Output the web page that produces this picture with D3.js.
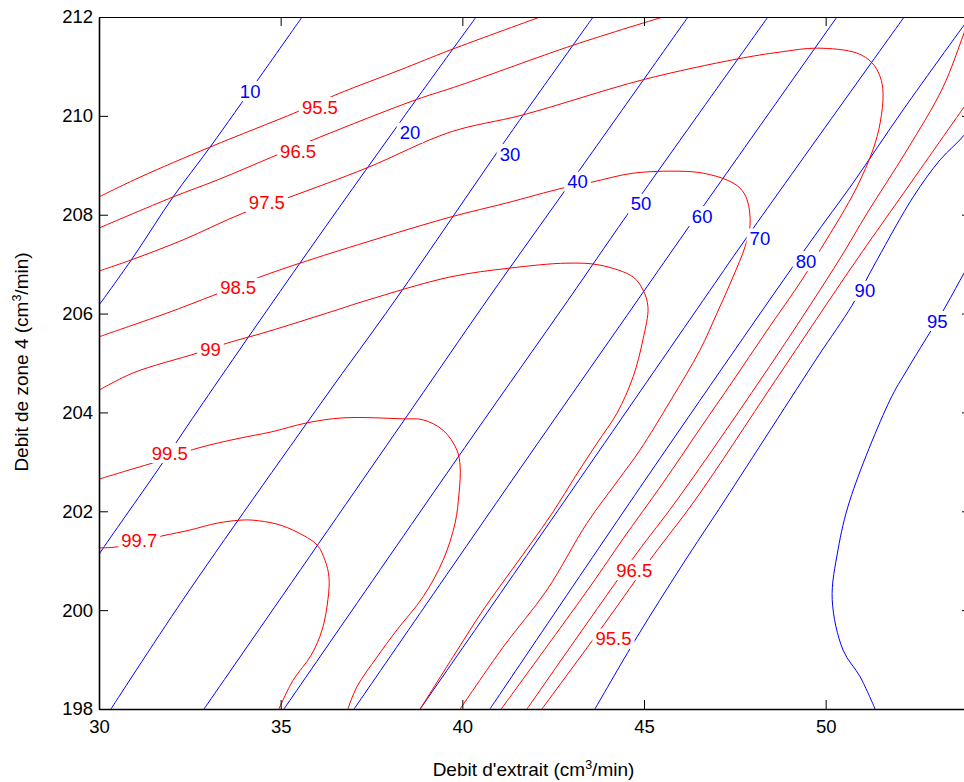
<!DOCTYPE html>
<html>
<head>
<meta charset="utf-8">
<script src="https://cdn.jsdelivr.net/npm/d3@7"></script>
<style>
  body { margin: 0; background: #fff; }
  svg text { font-family: "Liberation Sans", Arial, Helvetica, sans-serif; }
</style>
</head>
<body>
<svg id="chart" width="964" height="782"></svg>
<script>
// ---------------- DATA ----------------
const xDomain = [30, 54];
const yDomain = [198, 212];
const xTicks = [30, 35, 40, 45, 50];
const yTicks = [198, 200, 202, 204, 206, 208, 210, 212];
const xLabel = ["Debit d'extrait (cm", "3", "/min)"];
const yLabel = ["Debit de zone 4 (cm", "3", "/min)"];

// blue contours (levels 10 ... 95)
const blueLevels = [10, 20, 30, 40, 50, 60, 70, 80, 90, 95];
const blue10 = [[30,206.17],[30.94,207.14],[32.04,208.36],[33.06,209.37],[34.43,210.79],[35.59,212]];
const blue20 = [[40.38,212],[38.37,209.96],[35.53,207.02],[32.73,204.05],[31.62,202.84],[30.03,201.16],[29.9,201.0]];
const blue30 = [[43.60,212],[41.23,209.55],[38.15,206.27],[36.17,204.25],[32.31,200.21],[30.33,198]];
const blue40 = [[46.21,212],[43.29,208.97],[40.68,206.27],[38.78,204.25],[32.89,198]];
const blue50 = [[48.41,212],[44.53,207.99],[42.91,206.27],[40.21,203.44],[35.09,198]];
const blue60 = [[50.31,212],[46.21,207.73],[44.89,206.34],[41.37,202.63],[37.02,198]];
const blue70 = [[52.16,212],[47.78,207.49],[46.63,206.27],[43.21,202.63],[38.84,198]];
const blue80 = [[53.97,212],[52.13,210.12],[50.75,208.64],[49.52,207.39],[45.03,202.63],[40.76,198]];
const blue90 = [[54.1,209.95],[53.81,209.61],[53.15,209.11],[52.41,208.36],[51.41,207.08],[50.73,206.17],[49.76,205.10],[47.23,202.23],[46.05,200.91],[44.81,199.46],[43.65,198]];
const blue95 = [[54.11,207.19],[53.81,206.82],[53.29,206.13],[52.24,204.86],[51.77,204.25],[50.67,202.23],[50.34,201.22],[50.18,200.21],[50.48,199.19],[50.95,198.65],[51.36,198]];

// red contours (levels 95.5 ... 99.7)
const red955a = [[30,208.36],[31.13,208.76],[33.06,209.37],[35.45,210.08],[36.63,210.46],[38.29,210.93],[39.66,211.33],[42.14,212]];
const red955b = [[54.08,210.46],[53.81,210.18],[52.32,208.62],[50.81,207.04],[48.61,204.64],[46.41,202.23],[45.25,201.10],[43.93,199.74],[42.19,198]];
const red965a = [[30,207.73],[32.04,208.36],[33.25,208.70],[34.90,209.21],[36.08,209.57],[38.70,210.32],[39.94,210.62],[43.05,211.43],[45.52,212]];
const red965b = [[53.97,212],[53.81,211.68],[53.23,210.58],[52.24,209.31],[51.14,208.03],[50.40,207.12],[48.61,205.10],[45.91,202.23],[44.75,201.10],[41.78,198]];
const red975 = [[30,206.86],[30.94,207.10],[32.31,207.49],[33.96,208.03],[35.26,208.36],[37.38,208.95],[39.66,209.67],[41.67,210.02],[44.97,210.73],[47.56,211.15],[48.74,211.29],[49.76,211.37],[50.86,211.27],[51.28,211.07],[51.50,210.79],[51.58,210.46],[51.50,209.86],[51.30,209.31],[50.86,208.56],[50.40,207.95],[49.85,207.29],[49.38,206.72],[48.36,205.63],[47.45,204.64],[46.54,203.67],[45.52,202.57],[44.42,201.44],[43.51,200.47],[41.07,198]];
const red985 = [[30,205.53],[30.94,205.77],[31.87,206.01],[33.19,206.38],[34.43,206.74],[35.53,207.02],[37.38,207.45],[39.66,207.95],[41.23,208.24],[42.77,208.54],[43.57,208.66],[44.70,208.84],[45.99,208.88],[46.63,208.84],[47.29,208.70],[47.64,208.54],[47.84,208.30],[47.92,207.79],[47.78,207.35],[47.45,206.74],[47.01,206.01],[46.54,205.26],[45.74,204.25],[44.89,203.24],[44.29,202.63],[43.43,201.76],[42.33,200.41],[41.12,199.25],[39.94,198]];
const red99 = [[30,204.45],[30.94,204.80],[32.70,205.20],[33.52,205.40],[34.62,205.63],[36.36,206.03],[37.38,206.27],[39.66,206.74],[41.31,206.92],[42.88,207.02],[43.79,206.98],[44.70,206.74],[44.97,206.48],[45.11,206.13],[44.97,205.47],[44.70,204.72],[44.26,203.99],[43.71,203.38],[43.13,202.73],[42.50,201.99],[41.86,201.32],[41.26,200.71],[40.57,200.00],[39.74,199.05],[38.84,198]];
const red995 = [[30,202.65],[30.85,202.84],[31.40,202.96],[32.73,203.28],[33.88,203.48],[34.71,203.60],[35.73,203.79],[36.72,203.89],[38.37,203.87],[38.92,203.85],[39.47,203.64],[39.85,203.24],[39.94,202.90],[39.91,202.37],[39.80,201.76],[39.47,201.01],[38.92,200.27],[38.20,199.60],[37.65,199.05],[37.10,198.45],[36.85,198]];
const red997 = [[30,201.26],[30.50,201.28],[31.73,201.50],[32.50,201.62],[33.25,201.76],[33.88,201.82],[34.24,201.82],[34.90,201.74],[35.45,201.58],[36.00,201.32],[36.22,201.01],[36.33,200.67],[36.30,200.21],[36.14,199.60],[35.84,199.09],[35.34,198.58],[34.95,198]];

// inline contour labels: [text, x, y]
const blueLabels = [["10",34.16,210.50],["20",38.56,209.66],["30",41.31,209.23],["40",43.17,208.67],["50",44.92,208.22],["60",46.60,207.97],["70",48.19,207.52],["80",49.46,207.06],["90",51.08,206.46],["95",53.07,205.85]];
const redLabels = [["95.5",36.08,210.18],["96.5",35.48,209.29],["97.5",34.62,208.24],["98.5",33.83,206.52],["99",33.07,205.28],["99.5",31.95,203.18],["99.7",31.11,201.42],["96.5",44.73,200.81],["95.5",44.16,199.42]];

const blueContours = [blue10, blue20, blue30, blue40, blue50, blue60, blue70, blue80, blue90, blue95];
const redContours = [red955a, red955b, red965a, red965b, red975, red985, red99, red995, red997];

// ---------------- DRAWING ----------------
const BLUE = "#0000ff", RED = "#ff0000";
const FONT = 18.5, TITLE_FONT = 19;
const svg = d3.select("#chart");
const x = d3.scaleLinear().domain(xDomain).range([99, 971]);
const y = d3.scaleLinear().domain(yDomain).range([709, 17]);

svg.append("rect").attr("width", 964).attr("height", 782).attr("fill", "#fff");

svg.append("defs").append("clipPath").attr("id", "plotClip")
  .append("rect")
  .attr("x", x(xDomain[0])).attr("y", y(yDomain[1]))
  .attr("width", x(xDomain[1]) - x(xDomain[0]))
  .attr("height", y(yDomain[0]) - y(yDomain[1]));

const line = d3.line()
  .x(d => x(d[0])).y(d => y(d[1]))
  .curve(d3.curveCatmullRom.alpha(0.5));

const gLines = svg.append("g").attr("clip-path", "url(#plotClip)");
gLines.selectAll("path.blue").data(blueContours).join("path")
  .attr("class", "blue").attr("d", line)
  .attr("fill", "none").attr("stroke", BLUE).attr("stroke-width", 1);
gLines.selectAll("path.red").data(redContours).join("path")
  .attr("class", "red").attr("d", line)
  .attr("fill", "none").attr("stroke", RED).attr("stroke-width", 1);

// labels with white backing (breaks the contour lines like clabel)
const gLab = svg.append("g").attr("clip-path", "url(#plotClip)");
function drawLabels(labels, color) {
  labels.forEach(([t, lx, ly]) => {
    const cx = x(lx), cy = y(ly);
    const g = gLab.append("g");
    const rect = g.append("rect").attr("fill", "#fff");
    const txt = g.append("text")
      .attr("x", cx).attr("y", cy).attr("dy", "0.358em")
      .attr("text-anchor", "middle")
      .attr("font-size", FONT).attr("fill", color).text(t);
    const w = txt.node().getComputedTextLength();
    rect.attr("x", cx - w / 2 - 3).attr("y", cy - 10)
      .attr("width", w + 6).attr("height", 20);
  });
}
drawLabels(blueLabels, BLUE);
drawLabels(redLabels, RED);

// axes (ticks pointing inward, box)
function styleAxis(g, w) {
  g.attr("font-size", FONT).attr("font-family", "Liberation Sans, Arial, sans-serif");
  g.select(".domain").attr("stroke", "#000").attr("stroke-width", w);
  g.selectAll(".tick line").attr("stroke", "#000").attr("stroke-width", 1);
  g.selectAll(".tick text").attr("fill", "#000");
}
const gxTop = svg.append("g").attr("transform", `translate(0,${y(yDomain[1])})`)
  .call(d3.axisTop(x).tickValues(xTicks).tickSizeInner(-9).tickSizeOuter(0).tickFormat(""));
styleAxis(gxTop, 1);
const gyRight = svg.append("g").attr("transform", `translate(${x(xDomain[1])},0)`)
  .call(d3.axisRight(y).tickValues(yTicks).tickSizeInner(-9).tickSizeOuter(0).tickFormat(""));
styleAxis(gyRight, 1);
const gx = svg.append("g").attr("transform", `translate(0,${y(yDomain[0])})`)
  .call(d3.axisBottom(x).tickValues(xTicks).tickSizeInner(-9).tickSizeOuter(0).tickPadding(11));
styleAxis(gx, 1.6);
const gy = svg.append("g").attr("transform", `translate(${x(xDomain[0])},0)`)
  .call(d3.axisLeft(y).tickValues(yTicks).tickSizeInner(-9).tickSizeOuter(0).tickPadding(6));
styleAxis(gy, 1.6);

// axis titles
const xt = svg.append("text")
  .attr("x", (x(xDomain[0]) + x(xDomain[1])) / 2 - 1.5).attr("y", 776)
  .attr("text-anchor", "middle").attr("font-size", TITLE_FONT).attr("fill", "#000");
xt.append("tspan").text(xLabel[0]);
xt.append("tspan").attr("font-size", 12.5).attr("dy", -7.5).text(xLabel[1]);
xt.append("tspan").attr("dy", 7.5).text(xLabel[2]);

const yt = svg.append("text")
  .attr("transform", `translate(28,${(y(yDomain[0]) + y(yDomain[1])) / 2 - 1}) rotate(-90)`)
  .attr("text-anchor", "middle").attr("font-size", TITLE_FONT).attr("fill", "#000");
yt.append("tspan").text(yLabel[0]);
yt.append("tspan").attr("font-size", 12.5).attr("dy", -7.5).text(yLabel[1]);
yt.append("tspan").attr("dy", 7.5).text(yLabel[2]);
</script>
</body>
</html>
